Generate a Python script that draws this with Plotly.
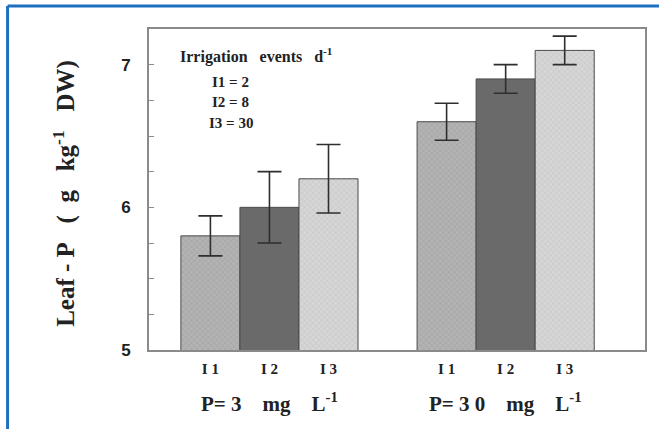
import plotly.graph_objects as go

NB = "\u00a0"
groups = [f"P={NB}3{NB*4}mg{NB*4}L<sup>-1</sup>", f"P={NB}3{NB}0{NB*4}mg{NB*4}L<sup>-1</sup>"]
series = ["I1", "I2", "I3"]
values = {
    "I1": [5.80, 6.60],
    "I2": [6.00, 6.90],
    "I3": [6.20, 7.10],
}
errors = {
    "I1": [0.14, 0.13],
    "I2": [0.25, 0.10],
    "I3": [0.24, 0.10],
}
fills = {"I1": "#b3b3b3", "I2": "#6a6a6a", "I3": "#d6d6d6"}
patterns = {"I1": "x", "I2": "", "I3": "x"}
pattern_fg = {"I1": "#8e8e8e", "I2": "#6a6a6a", "I3": "#ababab"}
legend_title = f"Irrigation{NB*3}events{NB*3}d<sup>-1</sup>"
legend_lines = [f"I1{NB}={NB}2", f"I2{NB}={NB}8", f"I3{NB}={NB}30"]

SERIF = "Liberation Serif"
SANS = "Liberation Sans"
GROUP_STEP = 4

fig = go.Figure()
tickvals, ticktext = [], []
for si, s in enumerate(series):
    xs = [gi * GROUP_STEP + si for gi in range(len(groups))]
    tickvals += xs
    ticktext += [s.replace("I", "I" + NB)] * len(groups)
    fig.add_trace(go.Bar(
        x=xs, y=values[s], width=1.0, name=s,
        marker=dict(color=fills[s], line=dict(color="#4a4a4a", width=1),
                    pattern=dict(shape=patterns[s], size=4, solidity=0.25,
                                 fgcolor=pattern_fg[s], fillmode="overlay")),
        error_y=dict(type="data", array=errors[s], visible=True,
                     color="#2e2e2e", thickness=1.6, width=12),
        showlegend=False,
    ))

fig.update_layout(
    width=659, height=429,
    margin=dict(l=149, r=12, t=29, b=79),
    paper_bgcolor="white", plot_bgcolor="white",
    barmode="overlay",
    font=dict(family=SERIF, color="#222"),
    xaxis=dict(range=[-1.04, 7.36], tickvals=tickvals, ticktext=ticktext,
               showgrid=False, zeroline=False, ticks="",
               showline=True, linecolor="#8a8a8a", linewidth=2, mirror=True,
               ticklabelstandoff=4,
               tickfont=dict(family=SERIF, size=15, weight="bold", color="#222")),
    yaxis=dict(range=[5, 7.25], tickvals=[5, 6, 7], ticktext=["5", "6", "7"],
               minor=dict(dtick=0.25, ticks="inside", ticklen=5, tickcolor="#8a8a8a"),
               ticks="inside", ticklen=5, tickcolor="#8a8a8a",
               showgrid=False, zeroline=False,
               showline=True, linecolor="#8a8a8a", linewidth=2, mirror=True,
               ticklabelstandoff=13,
               tickfont=dict(family=SANS, size=17, weight="bold", color="#222")),
)

# group labels
for gi, g in enumerate(groups):
    fig.add_annotation(x=gi * GROUP_STEP + 1, y=-0.165, xref="x", yref="paper",
                       text=g, showarrow=False, yanchor="middle",
                       font=dict(family=SERIF, size=21, weight="bold", color="#222"))

# y title
fig.add_annotation(x=-0.209, y=0.489, xref="paper", yref="paper",
                   text=f"Leaf{NB}-{NB}P{NB*3}({NB*2}g{NB*3}kg<sup>-1</sup>{NB*3}DW)",
                   textangle=-90, showarrow=False,
                   font=dict(family=SERIF, size=25, weight="bold", color="#222"))

# in-plot legend text
fig.add_annotation(x=(178 - 149) / 498, y=(350 - 55) / 321, xref="paper", yref="paper",
                   xanchor="left", yanchor="middle", showarrow=False,
                   text=legend_title,
                   font=dict(family=SERIF, size=16, weight="bold", color="#222"))
for i, t in enumerate(legend_lines):
    py = 82 + i * 20.5
    fig.add_annotation(x=(231 - 149) / 498, y=(350 - py) / 321, xref="paper", yref="paper",
                       xanchor="center", yanchor="middle", showarrow=False, text=t,
                       font=dict(family=SERIF, size=15, weight="bold", color="#222"))

# blue frame (top and left)
bx = (7 - 149) / 498
by = (350 - 6) / 321
fig.add_shape(type="line", xref="paper", yref="paper", x0=bx, x1=1.03, y0=by, y1=by,
              line=dict(color="#1f6fc0", width=3))
fig.add_shape(type="line", xref="paper", yref="paper", x0=bx, x1=bx, y0=by, y1=-0.25,
              line=dict(color="#1f6fc0", width=3))

fig.write_html("out.html", config={"displayModeBar": False},
               post_script="document.body.style.margin='0';")
